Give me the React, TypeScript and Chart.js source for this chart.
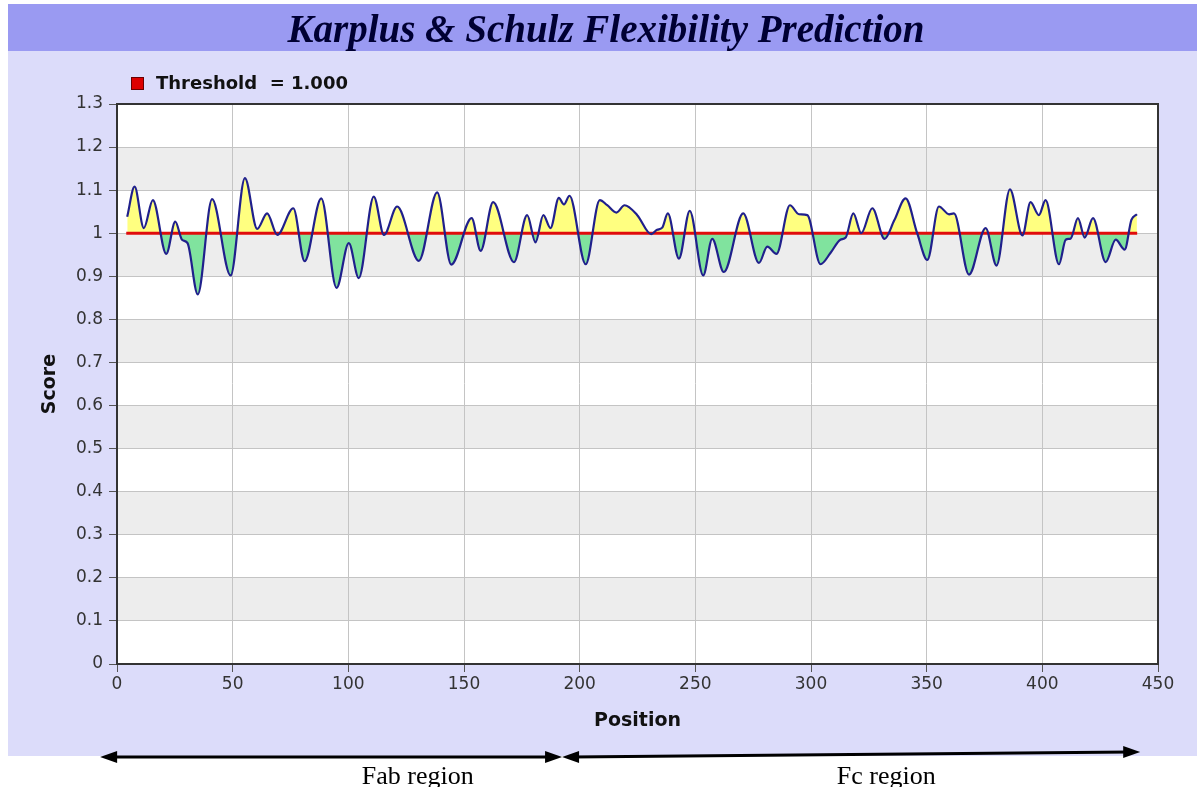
import React, { useEffect, useRef } from "react";
import { Chart, registerables } from "chart.js";

Chart.register(...registerables);

// ---- data ----
const positions = [
  4.4, 7.6, 11.6, 15.5, 21.3, 25.2, 28.1, 30.5, 34.9, 41.1, 49.1, 55.3, 60.6, 64.9, 69.3,
  76.2, 81.1, 88.3, 94.9, 100.2, 104.5, 111.0, 115.4, 121.1, 130.5, 138.4, 144.5, 153.3,
  157.2, 162.6, 171.6, 177.3, 180.9, 184.3, 187.4, 191.0, 193.2, 195.6, 202.6, 208.7,
  211.9, 215.9, 219.4, 224.9, 230.9, 233.5, 235.7, 238.1, 242.9, 247.6, 253.4, 257.3,
  262.3, 270.7, 277.5, 281.1, 285.1, 290.9, 294.8, 298.4, 304.1, 308.4, 312.7, 315.0,
  318.3, 321.7, 326.5, 331.8, 336.0, 340.9, 345.9, 350.3, 355.3, 359.7, 361.8, 368.3,
  375.5, 380.2, 386.0, 391.4, 394.9, 398.5, 401.4, 407.2, 410.1, 412.3, 415.4, 418.3,
  421.9, 427.4, 431.7, 435.6, 438.5, 440.9,
];
const scores = [
  1.038, 1.108, 1.012, 1.077, 0.952, 1.027, 0.985, 0.977, 0.858, 1.079, 0.902, 1.128, 1.010, 1.046, 0.996,
  1.058, 0.935, 1.081, 0.873, 0.977, 0.896, 1.085, 0.996, 1.062, 0.936, 1.095, 0.927, 1.035,
  0.959, 1.072, 0.933, 1.042, 0.979, 1.042, 1.012, 1.082, 1.067, 1.087, 0.928, 1.077,
  1.065, 1.048, 1.065, 1.042, 0.998, 1.008, 1.013, 1.046, 0.941, 1.052, 0.902, 0.987,
  0.910, 1.046, 0.931, 0.969, 0.952, 1.065, 1.044, 1.042, 0.928, 0.954, 0.985, 0.990,
  1.046, 1.000, 1.058, 0.987, 1.030, 1.081, 1.000, 0.938, 1.062, 1.044, 1.046, 0.904,
  1.012, 0.925, 1.102, 0.995, 1.072, 1.042, 1.077, 0.928, 0.985, 0.988, 1.035, 0.990,
  1.035, 0.933, 0.985, 0.962, 1.031, 1.044,
];
const thresholdValue = 1.0;
const thresholdSpan = [4, 441];
const thresholdLabel = "Threshold  = 1.000";
const chartTitle = "Karplus & Schulz Flexibility Prediction";
const xAxisTitle = "Position";
const yAxisTitle = "Score";
const xRange = [0, 450];
const xStep = 50;
const yRange = [0, 1.3];
const yStep = 0.1;
const regionLabels = ["Fab region", "Fc region"];
const regionStarts = [-7.3, 192.4];
const regionEnds = [192.4, 442.3];
const regionLabelCenters = [130, 332.5];

function arrowHead(ctx: CanvasRenderingContext2D, x: number, y: number, dir: number) {
  const len = 17;
  const half = 6;
  ctx.beginPath();
  ctx.moveTo(x, y);
  ctx.lineTo(x - dir * len, y - half);
  ctx.lineTo(x - dir * len, y + half);
  ctx.closePath();
  ctx.fill();
}

const decorPlugin = {
  id: "decor",
  beforeDraw(chart: any) {
    const ctx: CanvasRenderingContext2D = chart.ctx;
    const W = chart.width;
    ctx.save();
    ctx.fillStyle = "#ffffff";
    ctx.fillRect(0, 0, W, chart.height);
    ctx.fillStyle = "#dcdcfa";
    ctx.fillRect(8, 4, W - 8, 752);
    ctx.fillStyle = "#9a9af2";
    ctx.fillRect(8, 4, W - 8, 47);
    ctx.font = 'italic bold 39px "Liberation Serif"';
    ctx.fillStyle = "#000033";
    ctx.textAlign = "center";
    ctx.textBaseline = "alphabetic";
    ctx.fillText(chartTitle, 606, 42);

    const { left, right, top, bottom } = chart.chartArea;
    const ys = chart.scales.y;
    ctx.fillStyle = "#ffffff";
    ctx.fillRect(left, top, right - left, bottom - top);
    ctx.fillStyle = "#ededed";
    for (let i = 0; i < 13; i++) {
      if (i % 2 === 1) {
        const y1 = ys.getPixelForValue(i * yStep);
        const y2 = ys.getPixelForValue((i + 1) * yStep);
        ctx.fillRect(left, y2, right - left, y1 - y2);
      }
    }
    ctx.restore();
  },
  afterDraw(chart: any) {
    const ctx: CanvasRenderingContext2D = chart.ctx;
    const { left, right, top, bottom } = chart.chartArea;
    ctx.save();
    ctx.strokeStyle = "#333333";
    ctx.lineWidth = 2;
    ctx.strokeRect(left, top, right - left, bottom - top);

    // legend
    ctx.fillStyle = "#dd0000";
    ctx.fillRect(131, 77, 13, 13);
    ctx.strokeStyle = "#6a0000";
    ctx.lineWidth = 1;
    ctx.strokeRect(131.5, 77.5, 12, 12);
    ctx.fillStyle = "#111111";
    ctx.font = 'bold 18px "DejaVu Sans"';
    ctx.textAlign = "left";
    ctx.textBaseline = "middle";
    ctx.fillText(thresholdLabel, 156, 84);

    // region arrows
    const xs = chart.scales.x;
    ctx.strokeStyle = "#000000";
    ctx.fillStyle = "#000000";
    ctx.lineWidth = 3;
    const yStartArr = [757, 757];
    const yEndArr = [757, 752];
    for (let i = 0; i < regionLabels.length; i++) {
      const x1 = xs.getPixelForValue(regionStarts[i]);
      const x2 = xs.getPixelForValue(regionEnds[i]);
      const ya = yStartArr[i];
      const yb = yEndArr[i];
      ctx.beginPath();
      ctx.moveTo(x1 + 10, ya);
      ctx.lineTo(x2 - 10, yb);
      ctx.stroke();
      arrowHead(ctx, x1, ya, -1);
      arrowHead(ctx, x2, yb, 1);
      ctx.font = '26px "Liberation Serif"';
      ctx.textAlign = "center";
      ctx.textBaseline = "alphabetic";
      ctx.fillText(regionLabels[i], xs.getPixelForValue(regionLabelCenters[i]), 784);
    }
    ctx.restore();
  },
};

export default function App() {
  const ref = useRef<HTMLCanvasElement | null>(null);
  useEffect(() => {
    if (!ref.current) return;
    const chart = new Chart(ref.current, {
      type: "line",
      data: {
        datasets: [
          {
            label: yAxisTitle,
            data: positions.map((p, i) => ({ x: p, y: scores[i] })),
            borderColor: "#20208c",
            borderWidth: 2.2,
            pointRadius: 0,
            cubicInterpolationMode: "monotone",
            fill: { target: { value: thresholdValue }, above: "#ffff80", below: "#80e39e" },
            order: 0,
          } as any,
          {
            label: thresholdLabel,
            data: thresholdSpan.map((p) => ({ x: p, y: thresholdValue })),
            borderColor: "#e00c0c",
            borderWidth: 3,
            pointRadius: 0,
            fill: false,
            order: 1,
          } as any,
        ],
      },
      options: {
        responsive: false,
        animation: false,
        devicePixelRatio: 1,
        layout: { padding: { left: 34, top: 104, right: 39, bottom: 53 } },
        plugins: {
          legend: { display: false },
          tooltip: { enabled: false },
          filler: { drawTime: "beforeDatasetsDraw" },
        } as any,
        scales: {
          x: {
            type: "linear",
            min: xRange[0],
            max: xRange[1],
            afterFit: (s: any) => {
              s.height = 70;
            },
            ticks: {
              stepSize: xStep,
              font: { family: "DejaVu Sans", size: 17 },
              color: "#333333",
              padding: 2,
              maxRotation: 0,
            },
            grid: { color: "#c4c4c4", tickColor: "#555555", tickLength: 8 },
            border: { display: true, color: "#333333", width: 2 },
            title: {
              display: true,
              text: xAxisTitle,
              font: { family: "DejaVu Sans", size: 19, weight: "bold" },
              color: "#111111",
              padding: { top: 0, bottom: 2 },
            },
          },
          y: {
            type: "linear",
            min: yRange[0],
            max: yRange[1],
            afterFit: (s: any) => {
              s.width = 83;
            },
            ticks: {
              stepSize: yStep,
              font: { family: "DejaVu Sans", size: 17 },
              color: "#333333",
              padding: 6,
              callback: (v: any) => String(Number(Number(v).toFixed(1))),
            },
            grid: { color: "#c4c4c4", tickColor: "#555555", tickLength: 8 },
            border: { display: true, color: "#333333", width: 2 },
            title: {
              display: true,
              text: yAxisTitle,
              font: { family: "DejaVu Sans", size: 19, weight: "bold" },
              color: "#111111",
              padding: { top: 5, bottom: 0 },
            },
          },
        },
      } as any,
      plugins: [decorPlugin],
    });
    return () => chart.destroy();
  }, []);
  return (
    <div style={{ position: "fixed", left: 0, top: 0, width: 1197, height: 787 }}>
      <canvas ref={ref} width={1197} height={787} style={{ display: "block", width: 1197, height: 787 }} />
    </div>
  );
}
